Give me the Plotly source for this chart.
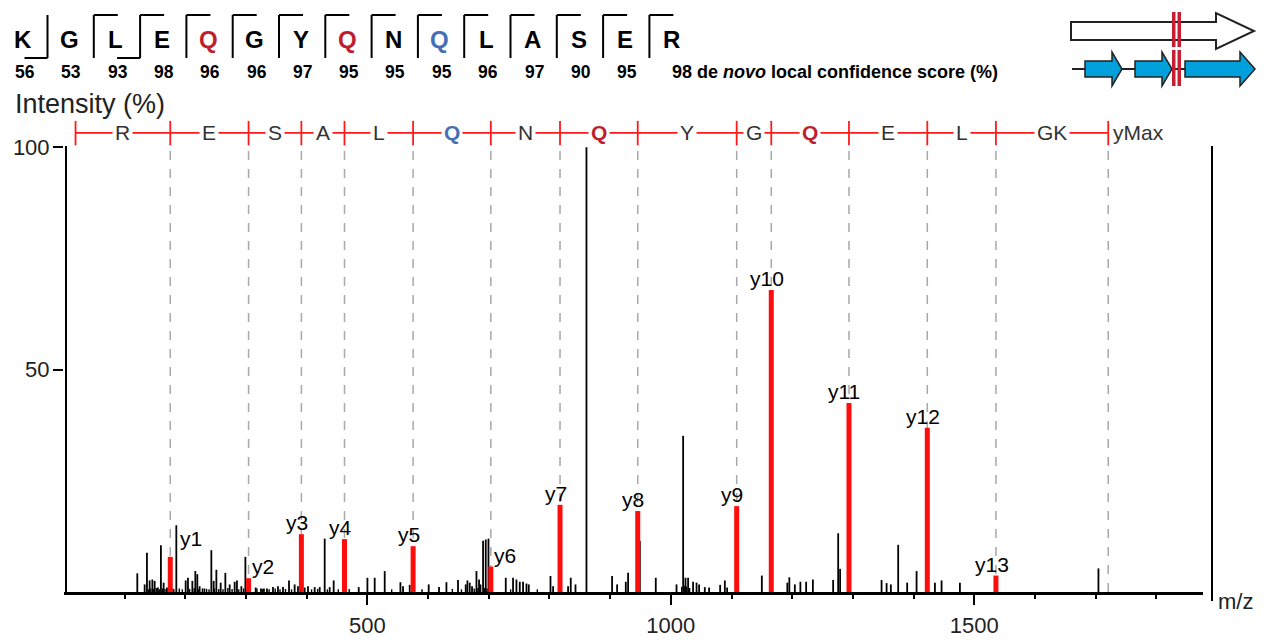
import plotly.graph_objects as go

# ---------------- data ----------------
sequence = ["K", "G", "L", "E", "Q", "G", "Y", "Q", "N", "Q", "L", "A", "S", "E", "R"]
confidence = [56, 53, 93, 98, 96, 96, 97, 95, 95, 95, 96, 97, 90, 95, 98]
residue_color = ["k", "k", "k", "k", "r", "k", "k", "r", "k", "b", "k", "k", "k", "k", "k"]
b_ion_after = [0, 2]                 # residues followed by an observed b-ion hook
y_ion_after = list(range(1, 14))     # separators carrying a y-ion hook

# y-ion ladder (m/z) and residues read from C-terminus
y_start_mz = 19.018
y_ion_names = ["y1", "y2", "y3", "y4", "y5", "y6", "y7", "y8", "y9", "y10", "y11", "y12", "y13"]
y_ion_mz = [175.119, 304.162, 391.194, 462.231, 575.315, 703.374, 817.417, 945.475,
            1108.539, 1165.560, 1293.619, 1422.662, 1535.746]
y_ion_int = [7.9, 3.1, 13.0, 11.9, 10.3, 5.7, 19.6, 18.2, 19.3, 67.9, 42.5, 36.9, 3.7]
y_max_mz = 1720.862
ladder_letters = ["R", "E", "S", "A", "L", "Q", "N", "Q", "Y", "G", "Q", "E", "L", "GK"]
ladder_colors = ["k", "k", "k", "k", "k", "b", "k", "r", "k", "k", "r", "k", "k", "k"]

# unassigned peaks
black_mz = [120.8, 132.9, 136.7, 141.1, 145.6, 149.4, 154.8, 159.7, 164.2, 169.6,
            174.1, 185.1, 200.5, 204.3, 211.5, 216.4, 219.7, 223.5, 231.3, 242.8,
            246.6, 251.1, 258.2, 265.9, 273.0, 281.2, 285.0, 292.3, 298.9, 315.9,
            324.6, 329.5, 334.5, 344.4, 352.6, 360.9, 370.8, 380.1, 385.6, 396.6,
            402.1, 413.1, 421.4, 429.6, 437.8, 444.4, 485.7, 500.0, 512.0, 528.5,
            554.4, 558.7, 569.7, 601.0, 618.0, 630.2, 649.3, 662.0, 664.8, 668.6,
            672.4, 679.7, 684.0, 686.3, 690.6, 695.0, 699.5, 702.8, 728.0, 740.0,
            745.6, 751.1, 756.5, 762.1, 765.9, 801.7, 806.0, 830.7, 835.1, 842.9,
            861.0, 903.2, 911.5, 925.8, 929.6, 948.9, 975.2, 1009.4, 1020.3, 1024.2,
            1028.5, 1036.7, 1042.4, 1046.6, 1056.0, 1063.1, 1081.3, 1089.0, 1092.8, 1150.0,
            1192.0, 1195.3, 1204.4, 1213.5, 1223.0, 1234.1, 1267.5, 1275.8, 1279.0, 1347.3,
            1355.6, 1362.6, 1374.7, 1389.5, 1405.0, 1435.2, 1446.2, 1476.4, 1704.7]
black_int = [4.2, 1.7, 8.8, 2.6, 2.8, 2.5, 1.0, 10.5, 2.1, 1.0,
             2.8, 15.0, 2.6, 3.2, 2.5, 4.7, 4.0, 1.3, 0.8, 9.4,
             2.5, 5.0, 2.1, 4.3, 1.7, 2.3, 2.6, 1.3, 7.9, 1.0,
             0.8, 0.8, 0.8, 1.1, 1.3, 1.1, 2.6, 1.7, 1.3, 1.0,
             1.3, 1.1, 1.1, 12.0, 1.1, 2.6, 1.1, 3.2, 3.2, 4.7,
             2.2, 1.3, 1.6, 1.7, 1.1, 2.2, 2.7, 1.7, 2.6, 2.1,
             1.3, 4.7, 2.8, 1.7, 11.5, 11.8, 12.0, 2.1, 3.2, 3.2,
             2.8, 2.3, 2.3, 1.9, 1.7, 3.6, 1.3, 1.3, 3.2, 1.7,
             100.0, 3.6, 1.7, 2.3, 4.3, 11.5, 3.2, 1.7, 35.1, 3.2,
             3.2, 2.3, 2.1, 1.7, 1.1, 1.0, 1.6, 2.6, 1.0, 3.7,
             2.1, 3.3, 1.7, 2.3, 2.3, 2.8, 2.7, 13.2, 5.2, 2.7,
             2.0, 1.7, 10.6, 2.1, 4.7, 2.1, 2.6, 2.1, 5.3]
noise_mz = [139, 143, 147.5, 152, 157, 162, 166.5, 172, 178, 181, 190, 195, 207, 214.5,
            221.5, 228, 235, 239, 248, 255, 262, 270, 277, 288, 296, 301, 307, 318, 327,
            338, 348, 356, 365, 375, 392, 408, 418, 434, 452, 470, 540, 590, 640, 655,
            676, 682, 693, 697, 700, 736, 780, 1018, 1022, 1026, 1031]
noise_int = [0.6, 0.8, 0.7, 0.9, 0.6, 0.8, 0.7, 0.6, 0.9, 0.7, 0.8, 0.6, 0.7, 0.9,
             0.6, 0.8, 0.7, 0.6, 0.8, 0.7, 0.6, 0.9, 0.7, 0.6, 0.8, 0.7, 0.6, 0.8, 0.7,
             0.6, 0.8, 0.6, 0.7, 0.6, 0.7, 0.6, 0.7, 0.6, 0.6, 0.7, 0.6, 0.6, 0.7, 0.6,
             0.8, 0.9, 0.9, 0.8, 0.9, 0.6, 0.6, 1.2, 1.4, 1.2, 0.9]

x_tick_vals = [500, 1000, 1500]
x_minor_vals = [100, 200, 300, 400, 600, 700, 800, 900, 1100, 1200, 1300, 1400, 1600, 1700, 1800]
y_tick_vals = [50, 100]

# label placement (pixels) for the y-ion labels
label_anchor = ["left", "left", "center", "center", "center", "left", "center", "center",
                "center", "center", "center", "center", "center"]
label_xshift = [8, 1, -4, -4, -4, 1, -4, -5, -5, -4, -5, -4, -4]
label_yshift = [5, -2, -2, -2, -2, -2, -2, -2, -2, -2, -2, -2, -2]

# ---------------- layout geometry ----------------
W, H = 1265, 644
ML, MR, MT, MB = 64, 62, 116, 52
PW = W - ML - MR
PH = H - MT - MB
X_MAX = 1877
Y_MAX = 107

FONT = "Arial, Liberation Sans, sans-serif"
RED_Q = "rgb(190,30,45)"
BLUE_Q = "rgb(70,110,180)"
COLMAP = {"k": "black", "r": RED_Q, "b": BLUE_Q}


def px_x(p):
    return (p - ML) / PW


def px_y(p):
    return (H - MB - p) / PH


def sticks(mz, inten):
    xs, ys = [], []
    for m, v in zip(mz, inten):
        xs += [m, m, None]
        ys += [0, v, None]
    return xs, ys


fig = go.Figure()

nx, ny = sticks(noise_mz, noise_int)
fig.add_trace(go.Scatter(x=nx, y=ny, mode="lines", line=dict(color="black", width=1.4),
                         hoverinfo="skip", showlegend=False))
bx, by = sticks(black_mz, black_int)
fig.add_trace(go.Scatter(x=bx, y=by, mode="lines", line=dict(color="black", width=1.8),
                         hoverinfo="skip", showlegend=False))
rx, ry = sticks(y_ion_mz, y_ion_int)
fig.add_trace(go.Scatter(x=rx, y=ry, mode="lines", line=dict(color="#ff0d0d", width=5),
                         hoverinfo="skip", showlegend=False))

shapes = []
annotations = []


def paper_text(x, y, text, size, color="black", xanchor="center"):
    annotations.append(dict(x=px_x(x), y=px_y(y), xref="paper", yref="paper", text=text,
                            showarrow=False, xanchor=xanchor, yanchor="middle",
                            font=dict(family=FONT, size=size, color=color)))


# dashed guide lines at each y-ion
for m in y_ion_mz + [y_max_mz]:
    shapes.append(dict(type="line", xref="x", yref="y", x0=m, x1=m, y0=0, y1=99.3,
                       line=dict(color="#a8a8a8", width=1.5, dash="dash"), layer="below"))

# red ion ladder on top
LADDER_Y = 103.2
bounds = [y_start_mz] + y_ion_mz + [y_max_mz]
shapes.append(dict(type="line", xref="x", yref="y", x0=bounds[0], x1=bounds[-1],
                   y0=LADDER_Y, y1=LADDER_Y, line=dict(color="#ff1a1a", width=1.8)))
for m in bounds:
    shapes.append(dict(type="line", xref="x", yref="y", x0=m, x1=m, y0=100.4, y1=105.9,
                       line=dict(color="#ff1a1a", width=1.8)))
for i, letter in enumerate(ladder_letters):
    c = ladder_colors[i]
    txt = letter if c == "k" else "<b>%s</b>" % letter
    annotations.append(dict(x=(bounds[i] + bounds[i + 1]) / 2, y=LADDER_Y, xref="x", yref="y",
                            text=txt, showarrow=False, bgcolor="white", borderpad=2,
                            xanchor="center", yanchor="middle",
                            font=dict(family=FONT, size=21,
                                      color="#333333" if c == "k" else COLMAP[c])))
annotations.append(dict(x=y_max_mz, y=LADDER_Y, xref="x", yref="y", text="yMax",
                        showarrow=False, xanchor="left", yanchor="middle", xshift=3,
                        font=dict(family=FONT, size=21, color="#333333")))

# y-ion labels
for i, name in enumerate(y_ion_names):
    annotations.append(dict(x=y_ion_mz[i], y=y_ion_int[i], xref="x", yref="y", text=name,
                            showarrow=False, xanchor=label_anchor[i], yanchor="bottom",
                            xshift=label_xshift[i], yshift=label_yshift[i],
                            font=dict(family=FONT, size=21, color="black")))

# y axis line (0..100) and the right-hand bar
shapes.append(dict(type="line", xref="paper", yref="paper", x0=px_x(66), x1=px_x(66),
                   y0=px_y(594), y1=px_y(146), line=dict(color="black", width=2)))
shapes.append(dict(type="line", xref="paper", yref="paper", x0=px_x(1212), x1=px_x(1212),
                   y0=px_y(601), y1=px_y(146), line=dict(color="black", width=2)))

# axis titles
paper_text(13, 104, "Intensity (%)", 27, "#222222", xanchor="left")
paper_text(1216, 601, "m/z", 22, "#222222", xanchor="left")

# ---------------- header: sequence with fragment hooks ----------------
LETTER_X0, STEP = 23, 46.3
for i, aa in enumerate(sequence):
    cx = LETTER_X0 + i * STEP
    paper_text(cx, 40, "<b>%s</b>" % aa, 24, COLMAP[residue_color[i]])
    if i < len(sequence) - 1:
        paper_text(cx + 2, 72, "<b>%d</b>" % confidence[i], 17.5)
    else:
        paper_text(cx - 1, 72,
                   "<b>%d de <i>novo</i> local confidence score (%%)</b>" % confidence[i],
                   18, xanchor="left")
for j in range(len(sequence) - 1):
    sx = LETTER_X0 + j * STEP + 24.5
    shapes.append(dict(type="line", xref="paper", yref="paper", x0=px_x(sx), x1=px_x(sx),
                       y0=px_y(58), y1=px_y(15), line=dict(color="black", width=2)))
    if j in y_ion_after:
        shapes.append(dict(type="line", xref="paper", yref="paper", x0=px_x(sx), x1=px_x(sx + 24),
                           y0=px_y(15), y1=px_y(15), line=dict(color="black", width=2)))
    if j in b_ion_after:
        shapes.append(dict(type="line", xref="paper", yref="paper", x0=px_x(sx - 23), x1=px_x(sx),
                           y0=px_y(58), y1=px_y(58), line=dict(color="black", width=2)))


# ---------------- gene-structure icon (top right) ----------------
def poly(points):
    s = "M " + " L ".join("%.5f,%.5f" % (px_x(a), px_y(b)) for a, b in points) + " Z"
    return s


shapes.append(dict(type="path", xref="paper", yref="paper",
                   path=poly([(1071, 22), (1216, 22), (1216, 13), (1254, 31), (1216, 49),
                              (1216, 40), (1071, 40)]),
                   fillcolor="white", line=dict(color="#222222", width=2)))
shapes.append(dict(type="line", xref="paper", yref="paper", x0=px_x(1072), x1=px_x(1240),
                   y0=px_y(69), y1=px_y(69), line=dict(color="#222222", width=2)))
for (b0, b1, tip) in [(1085, 1112, 1122), (1135, 1162, 1172), (1185, 1240, 1255)]:
    shapes.append(dict(type="path", xref="paper", yref="paper",
                       path=poly([(b0, 61), (b1, 61), (b1, 52), (tip, 69), (b1, 86),
                                  (b1, 77), (b0, 77)]),
                       fillcolor="rgb(0,160,220)", line=dict(color="#222222", width=1.5)))
for (y0, y1) in [(12, 47), (50, 86)]:
    for (a, b) in [(1172, 1175.5), (1177.5, 1181)]:
        shapes.append(dict(type="rect", xref="paper", yref="paper", x0=px_x(a), x1=px_x(b),
                           y0=px_y(y1), y1=px_y(y0), fillcolor="rgb(200,30,50)",
                           line=dict(width=0)))

fig.update_layout(
    width=W, height=H, autosize=False,
    margin=dict(l=ML, r=MR, t=MT, b=MB, pad=0),
    paper_bgcolor="white", plot_bgcolor="white",
    showlegend=False,
    font=dict(family=FONT, color="#222222"),
    shapes=shapes, annotations=annotations,
    xaxis=dict(range=[0, X_MAX], showgrid=False, zeroline=False, automargin=False,
               showline=True, linecolor="black", linewidth=3,
               tickmode="array", tickvals=x_tick_vals, ticks="outside", ticklen=10,
               tickwidth=2, tickcolor="black", ticklabelstandoff=2,
               tickfont=dict(family=FONT, size=22, color="#222222"),
               minor=dict(tickmode="array", tickvals=x_minor_vals, ticks="outside",
                          ticklen=4, tickwidth=1.5, tickcolor="black", showgrid=False)),
    yaxis=dict(range=[0, Y_MAX], showgrid=False, zeroline=False, showline=False,
               automargin=False,
               tickmode="array", tickvals=y_tick_vals, ticks="outside", ticklen=10,
               tickwidth=2, tickcolor="black", ticklabelstandoff=-1,
               tickfont=dict(family=FONT, size=22, color="#222222")),
)

fig.write_html("out.html", config={"displayModeBar": False},
               post_script="document.body.style.margin='0';")
